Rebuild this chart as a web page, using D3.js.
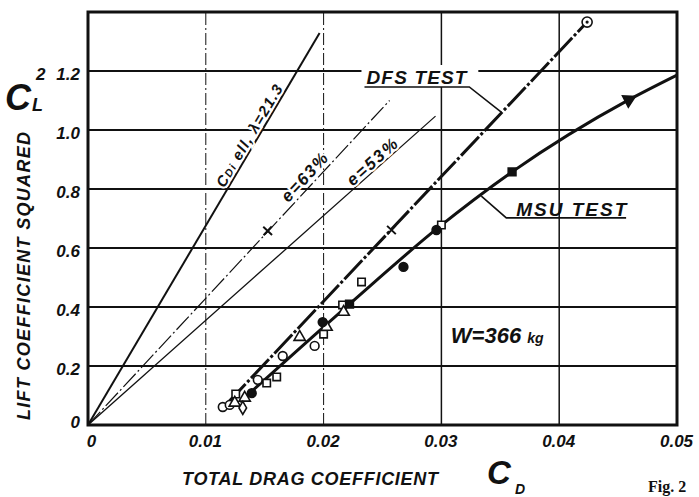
<!DOCTYPE html>
<html><head><meta charset="utf-8">
<script src="https://cdn.jsdelivr.net/npm/d3@7"></script>
<style>
html,body{margin:0;padding:0;background:#fff;}
svg{display:block;}
text{font-family:"Liberation Sans",Arial,sans-serif;font-weight:bold;font-style:italic;fill:#111;}
</style></head>
<body>
<svg id="chart" width="699" height="497"></svg>
<script>
// ---- data ----
const xTicks = [0, 0.01, 0.02, 0.03, 0.04, 0.05];
const xTickLabels = ["0", "0.01", "0.02", "0.03", "0.04", "0.05"];
const yTicks = [0, 0.2, 0.4, 0.6, 0.8, 1.0, 1.2];
const yTickLabels = ["0", "0.2", "0.4", "0.6", "0.8", "1.0", "1.2"];

// theoretical lines from origin (CD, CL^2)
const ellipticLine = [[0, 0], [0.01966, 1.329]];
const e63Line = [[0, 0], [0.0256, 1.10]];
const e53Line = [[0, 0], [0.0295, 1.047]];

// test polars
const dfsLine = [[0.01186, 0.075], [0.04237, 1.366]];
const msuLine = [[0.0129, 0.078], [0.0222, 0.41], [0.0297, 0.668], [0.0360, 0.858], [0.0459, 1.102], [0.0500, 1.186]];

// measured points
const openCircles = [[0.01144, 0.061], [0.01203, 0.068], [0.01441, 0.153], [0.01653, 0.234], [0.01924, 0.268]];
const openSquares = [[0.01254, 0.105], [0.01517, 0.142], [0.01602, 0.163], [0.0200, 0.308], [0.02161, 0.407], [0.02322, 0.485], [0.0300, 0.678]];
const openTriangles = [[0.01246, 0.075], [0.0133, 0.092], [0.01797, 0.298], [0.02025, 0.332], [0.0217, 0.383]];
const openDiamonds = [[0.01314, 0.058]];
const filledCircles = [[0.0139, 0.108], [0.01992, 0.349], [0.02678, 0.536], [0.02958, 0.661]];
const filledSquares = [[0.0222, 0.41], [0.0360, 0.858]];
const filledTriangles = [[0.0459, 1.102]];
const dfsEndPoint = [[0.04237, 1.366]];
const crossesDfs = [[0.02576, 0.661]];
const crossesE63 = [[0.01525, 0.658]];

// ---- layout ----
const svg = d3.select("#chart");
const x = d3.scaleLinear().domain([0, 0.05]).range([88, 677]);
const y = d3.scaleLinear().domain([0, 1.4]).range([425, 12]);
const line = d3.line().x(d => x(d[0])).y(d => y(d[1]));
const angleOf = (p, q) => Math.atan2(y(q[1]) - y(p[1]), x(q[0]) - x(p[0])) * 180 / Math.PI;

// gridlines
svg.append("g").selectAll("line").data(yTicks.filter(d => d > 0)).join("line")
  .attr("x1", x(0)).attr("x2", x(0.05)).attr("y1", d => y(d)).attr("y2", d => y(d))
  .attr("stroke", "#111").attr("stroke-width", 1.8);
svg.append("g").selectAll("line").data(xTicks.filter(d => d > 0 && d < 0.05)).join("line")
  .attr("x1", d => x(d)).attr("x2", d => x(d)).attr("y1", y(0)).attr("y2", y(1.4))
  .attr("stroke", "#111")
  .attr("stroke-width", d => d < 0.025 ? 1 : 1.5)
  .attr("stroke-dasharray", d => d < 0.025 ? "12,3,2,3" : null);

// DFS label background breaks the 1.2 gridline
const gLab = svg.append("g");

// theory lines
svg.append("path").datum(ellipticLine).attr("d", line).attr("fill", "none").attr("stroke", "#111").attr("stroke-width", 2);
svg.append("path").datum(e63Line).attr("d", line).attr("fill", "none").attr("stroke", "#111").attr("stroke-width", 1.2).attr("stroke-dasharray", "18,3,2,3");
svg.append("path").datum(e53Line).attr("d", line).attr("fill", "none").attr("stroke", "#111").attr("stroke-width", 1.3);

// test lines
svg.append("path").datum(dfsLine).attr("d", line).attr("fill", "none").attr("stroke", "#111").attr("stroke-width", 3).attr("stroke-dasharray", "26,2.5,3,2.5");
svg.append("path").datum(msuLine).attr("d", line.curve(d3.curveMonotoneX)).attr("fill", "none").attr("stroke", "#111").attr("stroke-width", 3);

// markers
const sym = (type, size) => d3.symbol().type(type).size(size)();
function marks(data, type, size, filled, rot) {
  svg.append("g").selectAll("path").data(data).join("path")
    .attr("d", sym(type, size))
    .attr("transform", d => `translate(${x(d[0])},${y(d[1])}) rotate(${rot || 0})`)
    .attr("fill", filled ? "#111" : "#fff")
    .attr("stroke", "#111").attr("stroke-width", 1.6);
}
marks(openCircles, d3.symbolCircle, 60, false);
marks(openSquares, d3.symbolSquare, 55, false);
marks(openTriangles, d3.symbolTriangle, 55, false);
marks(openDiamonds, d3.symbolDiamond, 50, false);
marks(filledCircles, d3.symbolCircle, 60, true);
marks(filledSquares, d3.symbolSquare, 60, true);
marks(filledTriangles, d3.symbolTriangle, 70, true, 90 + angleOf(msuLine[4], msuLine[5]));
// DFS end circle with dot
marks(dfsEndPoint, d3.symbolCircle, 80, false);
svg.append("g").selectAll("circle").data(dfsEndPoint).join("circle")
  .attr("cx", d => x(d[0])).attr("cy", d => y(d[1])).attr("r", 1.6).attr("fill", "#111");
// crosses
function crosses(data, ref) {
  const a = angleOf(ref[0], ref[ref.length - 1]);
  svg.append("g").selectAll("path").data(data).join("path")
    .attr("d", "M-6,0L6,0M0,-6L0,6")
    .attr("transform", d => `translate(${x(d[0])},${y(d[1])}) rotate(${a})`)
    .attr("stroke", "#111").attr("stroke-width", 2);
}
crosses(crossesDfs, dfsLine);
crosses(crossesE63, e63Line);

// frame
svg.append("rect").attr("x", x(0)).attr("y", y(1.4)).attr("width", x(0.05) - x(0)).attr("height", y(0) - y(1.4))
  .attr("fill", "none").attr("stroke", "#111").attr("stroke-width", 3);

// axes tick labels via d3 axes
const xAxis = svg.append("g").attr("transform", `translate(0,${y(0)})`)
  .call(d3.axisBottom(x).tickValues(xTicks).tickFormat((d, i) => xTickLabels[i]).tickSize(0).tickPadding(10));
xAxis.select(".domain").remove();
xAxis.selectAll("text").attr("font-size", 17).attr("font-family", null).attr("dx", (d, i) => i === 0 ? 3 : -1);

const yAxis = svg.append("g").attr("transform", `translate(${x(0)},0)`)
  .call(d3.axisLeft(y).tickValues(yTicks).tickFormat((d, i) => yTickLabels[i]).tickSize(0).tickPadding(8));
yAxis.select(".domain").remove();
yAxis.selectAll("text").attr("font-size", 17).attr("font-family", null).attr("dy", (d, i) => i === 0 ? "0.15em" : "0.5em");

// rotated line labels
function lineLabel(pt, ref, txtParts, size, dy, len) {
  const a = angleOf(ref[0], ref[ref.length - 1]);
  const t = svg.append("text")
    .attr("transform", `translate(${x(pt[0])},${y(pt[1])}) rotate(${a})`)
    .attr("text-anchor", "middle").attr("dy", dy).attr("font-size", size)
    .attr("stroke", "#fff").attr("stroke-width", 4).attr("paint-order", "stroke")
    .attr("textLength", len).attr("lengthAdjust", "spacing");
  txtParts.forEach(p => {
    const s = t.append("tspan").text(p.t);
    if (p.small) s.attr("font-size", size * 0.72);
  });
}
lineLabel([0.01428, 0.966], ellipticLine, [{t: "C"}, {t: "Di", small: true}, {t: " ell, λ=21.3"}], 15, -3, 116);
lineLabel([0.01898, 0.817], e63Line, [{t: "e=63%"}], 17, -4, 60);
lineLabel([0.02455, 0.872], e53Line, [{t: "e=53%"}], 17, -2, 62);

// DFS TEST label with leader
const dfsUnder = [[0.02347, 1.146], [0.03237, 1.146], [0.03508, 1.061]];
gLab.append("rect").attr("x", x(0.02347) - 3).attr("y", y(1.2) - 6).attr("width", x(0.03237) - x(0.02347) + 12).attr("height", 22).attr("fill", "#fff");
svg.append("path").datum(dfsUnder).attr("d", d3.line().x(d => x(d[0])).y(d => y(d[1]))).attr("fill", "none").attr("stroke", "#111").attr("stroke-width", 1.6);
svg.append("text").attr("x", x(0.02347) + 2).attr("y", y(1.146) - 3).attr("font-size", 19)
  .attr("textLength", 100).attr("lengthAdjust", "spacing").text("DFS TEST");

// MSU TEST label with leader
const msuUnder = [[0.03339, 0.776], [0.03551, 0.702], [0.04568, 0.702]];
svg.append("path").datum(msuUnder).attr("d", d3.line().x(d => x(d[0])).y(d => y(d[1]))).attr("fill", "none").attr("stroke", "#111").attr("stroke-width", 1.6);
svg.append("text").attr("x", x(0.03551) + 10).attr("y", y(0.702) - 2).attr("font-size", 19)
  .attr("textLength", 110).attr("lengthAdjust", "spacing").text("MSU TEST");

// weight label
const wLab = svg.append("text").attr("x", x(0.0308)).attr("y", y(0.278)).attr("font-size", 22);
wLab.append("tspan").text("W=366 ");
wLab.append("tspan").attr("font-size", 14).text("kg");

// axis titles
svg.append("text").attr("transform", "translate(30,276) rotate(-90)").attr("text-anchor", "middle")
  .attr("font-size", 18).attr("textLength", 288).attr("lengthAdjust", "spacing").text("LIFT COEFFICIENT SQUARED");
svg.append("text").attr("x", 182).attr("y", 485).attr("font-size", 18)
  .attr("textLength", 256).attr("lengthAdjust", "spacing").text("TOTAL DRAG COEFFICIENT");

// C_L^2
const cl = svg.append("g");
cl.append("text").attr("x", 5).attr("y", 110).attr("font-size", 36).text("C");
cl.append("text").attr("x", 32).attr("y", 111).attr("font-size", 18).text("L");
cl.append("text").attr("x", 36).attr("y", 80).attr("font-size", 17).text("2");
// C_D
const cd = svg.append("g");
cd.append("text").attr("x", 487).attr("y", 484).attr("font-size", 33).text("C");
cd.append("text").attr("x", 515).attr("y", 494).attr("font-size", 14).text("D");

// figure caption
svg.append("text").attr("x", 648).attr("y", 492).attr("font-size", 16)
  .style("font-family", "'Liberation Serif', 'DejaVu Serif', serif").style("font-style", "normal").text("Fig. 2");
</script>
</body></html>
